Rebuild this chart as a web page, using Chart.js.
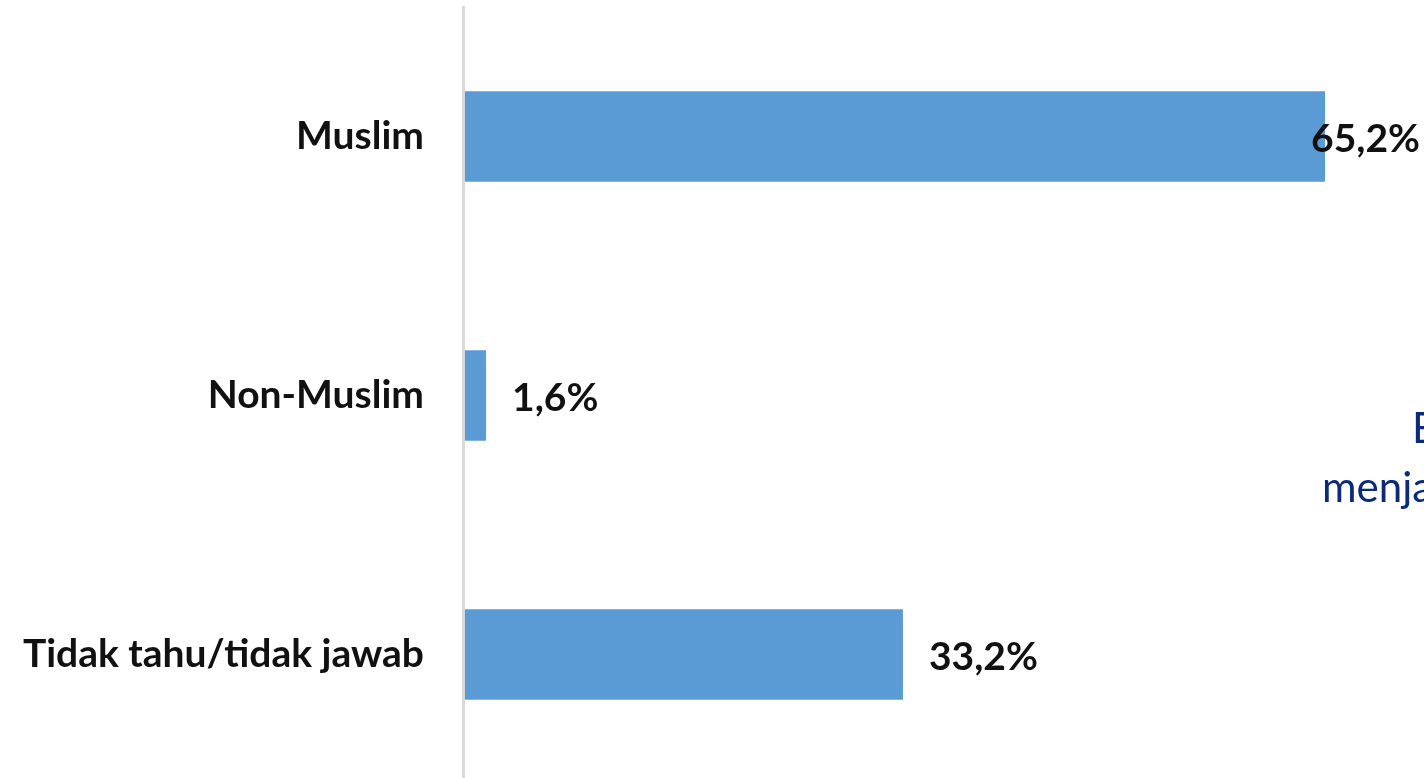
<!DOCTYPE html>
<html>
<head>
<meta charset="utf-8">
<script src="https://cdn.jsdelivr.net/npm/chart.js@4.4.1/dist/chart.umd.min.js"></script>
<style>
  html, body { margin: 0; padding: 0; background: #ffffff; overflow: hidden; }
  #wrap { position: relative; width: 1424px; height: 778px; overflow: hidden; }
  canvas { display: block; }
</style>
</head>
<body>
<div id="wrap"><canvas id="c" width="1424" height="790"></canvas></div>
<script>
const categories = ["Muslim", "Non-Muslim", "Tidak tahu/tidak jawab"];
const values = [65.2, 1.6, 33.2];
const valueLabels = ["65,2%", "1,6%", "33,2%"];
const sideTexts = ["E", "menja"];

const FONT = "Lato, 'Open Sans', 'DejaVu Sans', sans-serif";

// fit category label font size to the reference width
const mctx = document.createElement('canvas').getContext('2d');
let labelSize = 32;
for (let s = 40; s >= 20; s -= 0.5) {
  mctx.font = `bold ${s}px ${FONT}`;
  if (mctx.measureText(categories[2]).width <= 404) { labelSize = s; break; }
}

const valueLabelPlugin = {
  id: 'valueLabels',
  afterDatasetsDraw(chart) {
    const ctx = chart.ctx;
    const meta = chart.getDatasetMeta(0);
    ctx.save();
    ctx.font = `bold ${labelSize}px ${FONT}`;
    ctx.fillStyle = '#111111';
    ctx.textBaseline = 'middle';
    ctx.textAlign = 'left';
    meta.data.forEach((bar, i) => {
      const txt = valueLabels[i];
      const w = ctx.measureText(txt).width;
      let x = bar.x + 26;
      if (x + w > 1420) x = 1420 - w;
      ctx.fillText(txt, x, bar.y + 3);
    });
    ctx.restore();
  }
};

const sideTextPlugin = {
  id: 'sideText',
  afterDraw(chart) {
    const ctx = chart.ctx;
    ctx.save();
    ctx.font = `42px ${FONT}`;
    ctx.fillStyle = '#0b2a7c';
    ctx.textBaseline = 'alphabetic';
    ctx.textAlign = 'left';
    ctx.fillText(sideTexts[0], 1412, 443);
    ctx.fillText(sideTexts[1], 1322, 502);
    ctx.restore();
  }
};

new Chart(document.getElementById('c'), {
  type: 'bar',
  data: {
    labels: categories,
    datasets: [{
      data: values,
      backgroundColor: '#5b9bd5',
      borderWidth: 0,
      barPercentage: 0.35,
      categoryPercentage: 1
    }]
  },
  options: {
    indexAxis: 'y',
    responsive: false,
    animation: false,
    layout: { padding: { top: 7, bottom: 6, left: 0, right: 0 } },
    plugins: { legend: { display: false }, tooltip: { enabled: false } },
    scales: {
      x: { display: false, min: -0.15, max: 72.7 },
      y: {
        grid: { display: false, drawTicks: false },
        border: { display: true, color: '#d9d9d9', width: 3 },
        ticks: {
          color: '#111111',
          padding: 39,
          font: { family: FONT, weight: 'bold', size: labelSize }
        },
        afterFit(scale) {
          scale.width = 463;
          scale.paddingTop = 0;
          scale.paddingBottom = 0;
        }
      }
    }
  },
  plugins: [valueLabelPlugin, sideTextPlugin]
});
</script>
</body>
</html>
